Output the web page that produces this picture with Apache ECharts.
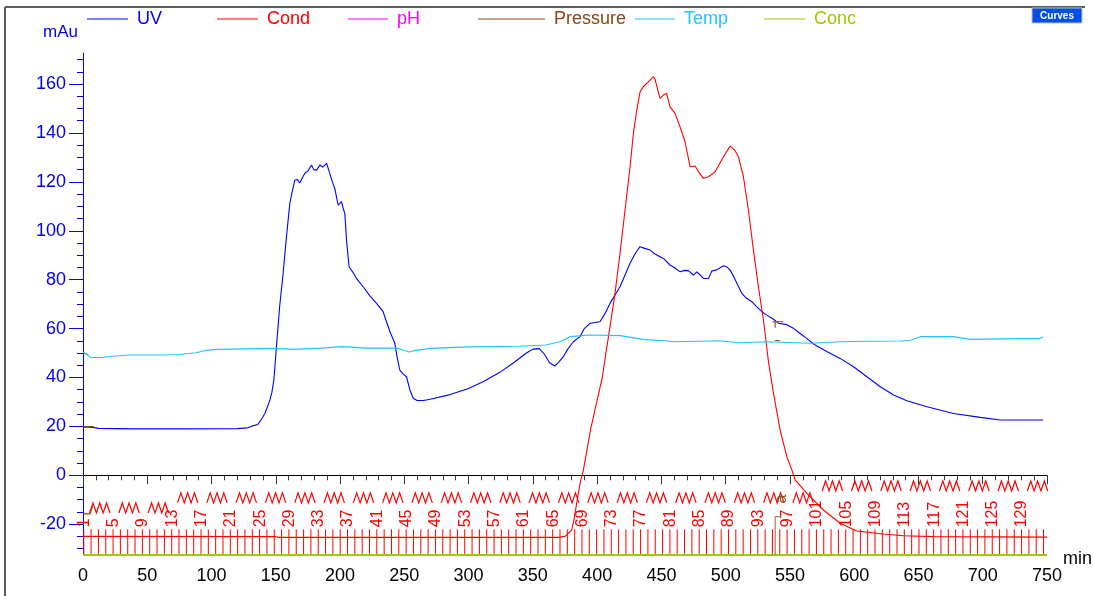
<!DOCTYPE html>
<html>
<head>
<meta charset="utf-8">
<style>html,body{margin:0;padding:0;background:#fff;}#c{width:1093px;height:596px;}</style>
<script src="https://cdn.jsdelivr.net/npm/echarts@6/dist/echarts.min.js"></script>
</head>
<body>
<div id="c"></div>
<script>
// ---------- data (time in min, value in mAu-scale units) ----------
const uv = [[0,19.8],[8,19.6],[12,19.2],[40,19.0],[80,19.0],[120,19.1],[128,19.4],[132,20.2],[136,20.8],[139,23],[141.5,25.3],[143.5,28],[145.4,30.8],[147,34],[148.5,39],[150.5,52.6],[153,69],[155.7,82.6],[158.3,97.6],[160.9,111.2],[163,116.6],[164.8,120.7],[166.5,121],[168.7,119.6],[170.5,121.5],[172.6,123.5],[175,124.5],[177.8,126.9],[179.5,125],[181.7,124.8],[184.3,126.9],[186.5,126],[189.5,127.6],[192,123.5],[194,120],[195.9,117.3],[197.5,113],[198.5,110.5],[200,111],[201.1,111.9],[202.5,109],[203.7,107.1],[205,96.2],[207,85.3],[210,83],[212.8,80.5],[215,79],[218,77.1],[223,73.5],[228.4,70.3],[233.5,66.9],[236,63],[238.8,58.7],[242.6,54],[244.5,48],[246.5,43],[249,41.5],[251.7,40.3],[254.3,34.9],[256.9,31.5],[260,30.6],[265,30.6],[270,31.1],[285,32.9],[300,35.5],[312,38.5],[324,42],[335,46],[345,50],[350,51.6],[355,51.8],[359,49.5],[363,46],[367,44.7],[370,46.2],[373.7,48.5],[377,51.5],[381.5,54.6],[386.7,56.7],[390,60],[394.5,62.1],[398,62.5],[402.2,62.8],[406,66],[410,70.3],[417.8,77.1],[425.6,86.7],[430,91],[433.4,93.5],[437,92.8],[441.2,92.1],[445,90.5],[448.9,89.4],[452,88.5],[456.7,86],[460,85],[464.5,83.2],[468,83.8],[471,83.7],[474.9,81.9],[477.5,83.2],[480,82],[482.7,80.5],[486.6,80.5],[489.2,83.5],[493,84],[498.3,85.7],[501,85.2],[503.5,83.9],[506,81.5],[508.7,78.5],[512.6,74.4],[516,72.5],[520.4,71],[524,69],[528.2,66.9],[532,65.5],[537.2,63.8],[541,62.2],[547.6,61.6],[553,60],[558,58],[563,56],[569,53.5],[579,50.5],[589,47.8],[599.5,44.4],[609.9,40.3],[620.3,36.2],[630.6,32.8],[641,30.5],[656.6,28],[677.3,25.3],[698.1,23.7],[713.7,22.6],[747,22.6]];

const cond = [[0,-25],[150,-25.1],[152,-25.4],[370,-25.4],[375,-25],[378,-23.5],[380.2,-22.4],[382,-18],[384.1,-11.4],[386.7,-3.3],[389.3,2.2],[392,10],[395,19],[398,26],[401,33],[404,40],[406,47.1],[410,60.8],[413.9,74.4],[417.8,90.8],[421.7,108.5],[425.6,126.2],[428.2,139.8],[430.8,149.3],[433.4,156.8],[436,159],[438.6,160.3],[441,161.5],[443.8,163],[445,162],[446.4,161.6],[448.9,154.1],[451.5,155.5],[454.1,156.2],[456.7,150.7],[460.6,148],[464.5,142.5],[468.4,136.4],[472.3,126.2],[476.2,126.5],[479,124],[482.7,121.4],[486.6,122.1],[491.8,124.1],[498.3,130.3],[503.5,134.6],[507,133],[509.9,130.3],[513.8,122.1],[517.7,108.5],[521.6,92.1],[525.5,77],[529.4,63.5],[533.3,46.5],[537.2,33.5],[542.4,18.5],[547.6,7.6],[551.5,2.2],[554,-1.9],[563.2,-7.4],[576.1,-14.2],[589,-19.6],[602,-22.8],[622.7,-24],[638.4,-24.7],[661.8,-25.1],[750,-25.3]];

const ph = [];

const pressure = [[0,-15.8],[5.5,-15.8],[7.5,-12.6],[7.5,'-'],[0,19.9],[8.5,19.9],[8.5,'-'],[0,50.2],[4,49.2],[4,'-'],[536.5,62.8],[545,62.8],[545,'-'],[538.5,62.8],[538.5,60.3],[538.5,'-'],[538.5,55.1],[542,55.1]];

const temp = [[0,50.3],[3,49.5],[6,48.2],[15,48.2],[20,48.6],[36,49.2],[62,49.2],[75,49.4],[88,50.1],[95,51],[104,51.5],[150,51.9],[163,51.5],[185,52],[202,52.6],[220,52],[244,52],[250,51],[254,50.4],[258,51],[270,51.9],[300,52.5],[340,52.8],[360,53.3],[371,54.6],[379,56.7],[394.5,57.4],[417.8,57.1],[436,55.6],[462,54.6],[495,55],[511,54.2],[532,54.6],[566,54],[589,54.6],[610,54.8],[636,54.9],[643.6,55.2],[651.4,56.7],[677,56.7],[690,55.6],[729,55.9],[744,55.9],[747,56.6]];

const conc = [[0,-32.6],[750,-32.6]];

// fraction start times (min); fraction number = index + 1
const fracTimes = [0.6,6.3,12.0,17.7,23.4,29.1,34.8,40.5,46.2,51.9,57.6,63.3,69.0,74.7,80.4,86.1,91.8,97.5,103.2,108.9,114.6,120.3,126.0,131.7,137.4,143.1,148.8,154.5,160.2,165.9,171.6,177.3,183.0,188.7,194.4,200.1,205.8,211.5,217.2,222.9,228.6,234.3,240.0,245.7,251.4,257.1,262.8,268.5,274.2,279.9,285.6,291.3,297.0,302.7,308.4,314.1,319.8,325.5,331.2,336.9,342.6,348.3,354.0,359.7,365.4,371.1,376.8,382.5,388.2,393.9,399.6,405.3,411.0,416.7,422.4,428.1,433.8,439.5,445.2,450.9,456.6,462.3,468.0,473.7,479.4,485.1,490.8,496.5,502.2,507.9,513.6,519.3,525.0,530.7,536.4,542.1,547.8,553.5,559.2,564.9,570.6,576.3,582.0,587.7,593.4,599.1,604.8,610.5,616.2,621.9,627.6,633.3,639.0,644.7,650.4,656.1,661.8,667.5,673.2,678.9,684.6,690.3,696.0,701.7,707.4,713.1,718.8,724.5,730.2,735.9,741.6,747.3];

const events = [[538.5,'a']];

const yMajorTicks = [-20,0,20,40,60,80,100,120,140,160];
const yMinorTicks = [-30,-25,-15,-10,-5,5,10,15,25,30,35,45,50,55,65,70,75,85,90,95,105,110,115,125,130,135,145,150,155,165,170];

const seriesNames = ['UV','Cond','pH','Pressure','Temp','Conc'];
const seriesColors = ['#0000ff','#ff0000','#ff00ff','#8b4513','#1ec4ff','#99cc00'];

// ---------- chart ----------
const Y_MIN = -32.6, Y_MAX = 172.7;
const FONT = "'Liberation Sans', Arial, sans-serif";
const FRAC_LINE_TOP = -22.1, FRAC_LABEL_BASE = -21.3;
const ZZ_LOW = -15.4, ZZ_MID = -11.3, ZZ_HIGH = -6.4;

const fracData = fracTimes.map((t, i) => [t, -30, i + 1]);

function renderFrac(params, api) {
  const t = api.value(0), k = api.value(2);
  const top = api.coord([t, FRAC_LINE_TOP]);
  const bot = api.coord([t, Y_MIN]);
  const ch = [{type:'line', shape:{x1:top[0], y1:top[1], x2:bot[0], y2:bot[1]}, style:{stroke:'#ff0000', lineWidth:1}}];
  if ((k - 1) % 4 === 0) {
    const a = api.coord([t, FRAC_LABEL_BASE]);
    ch.push({type:'text', x:a[0] + 0.5, y:a[1], rotation:Math.PI/2,
      style:{text:String(k), fill:'#ff0000', fontSize:16, fontFamily:FONT, align:'left', verticalAlign:'middle'}});
    const lvl = k < 13 ? ZZ_LOW : (k < 101 ? ZZ_MID : ZZ_HIGH);
    const z0 = api.coord([t + 4.5, lvl]);
    const pts = [];
    for (let i = 0; i < 7; i++) pts.push([z0[0] + i * 3.4, z0[1] - (i % 2 ? 10 : 0)]);
    if (z0[0] + 19 < params.coordSys.x + params.coordSys.width + 1)
      ch.push({type:'polyline', shape:{points:pts}, style:{stroke:'#ff0000', lineWidth:1.2, fill:null}});
  }
  return {type:'group', children:ch};
}

function renderEvent(params, api) {
  const t = api.value(0);
  const top = api.coord([t, -16.9]);
  const bot = api.coord([t, Y_MIN]);
  const lab = api.coord([t, -11.5]);
  return {type:'group', children:[
    {type:'line', shape:{x1:top[0], y1:top[1], x2:bot[0], y2:bot[1]}, style:{stroke:'#a0785a', lineWidth:1.2}},
    {type:'line', shape:{x1:top[0], y1:top[1], x2:top[0] + 6, y2:top[1]}, style:{stroke:'#a0785a', lineWidth:1.2}},
    {type:'text', x:lab[0] + 6.5, y:lab[1], rotation:Math.PI/2,
      style:{text:events[params.dataIndex][1], fill:'#8b5a2b', fontSize:16, fontFamily:FONT, align:'left', verticalAlign:'middle'}}
  ]};
}

const legendLeft = [87, 217, 348, 478, 635, 764];
const legendLineLen = [41, 41, 40, 67, 40, 41];
const legends = seriesNames.map((n, i) => ({
  data:[n], left:legendLeft[i], top:10, padding:0, orient:'horizontal',
  icon:'rect', itemWidth:legendLineLen[i], itemHeight:1,
  textStyle:{color:seriesColors[i], fontSize:18, fontFamily:FONT, padding:[0,0,0,4]}
}));

const lineSeries = [uv, cond, ph, pressure, temp, conc].map((d, i) => ({
  name:seriesNames[i], type:'line', data:d, showSymbol:false, symbol:'none',
  connectNulls:false, color:seriesColors[i],
  lineStyle:{color:seriesColors[i], width: i === 5 ? 2 : 1.1},
  clip: i === 5 ? false : true, z: i === 5 ? 4 : 3, silent:true
}));

const chart = echarts.init(document.getElementById('c'), null, {renderer:'canvas'});
chart.setOption({
  animation:false,
  backgroundColor:'#ffffff',
  textStyle:{fontFamily:FONT},
  grid:{left:83, right:46, top:53, bottom:41, containLabel:false, outerBoundsMode:'none'},
  legend:legends,
  xAxis:{
    type:'value', min:0, max:750, interval:50,
    axisLine:{show:true, lineStyle:{color:'#000', width:1}},
    axisTick:{show:true, length:9, lineStyle:{color:'#333'}},
    minorTick:{show:true, splitNumber:5, length:5, lineStyle:{color:'#333'}},
    axisLabel:{color:'#000', fontSize:18, fontFamily:FONT, margin:12},
    splitLine:{show:false}, minorSplitLine:{show:false}
  },
  yAxis:[{
    type:'value', min:Y_MIN, max:Y_MAX, position:'left',
    axisLine:{show:true, lineStyle:{color:'#0000ff', width:1}},
    axisTick:{show:true, length:14, customValues:yMajorTicks, lineStyle:{color:'#0000ff'}},
    axisLabel:{show:true, customValues:yMajorTicks, color:'#0000ee', fontSize:18, fontFamily:FONT, margin:17},
    splitLine:{show:false}
  },{
    type:'value', min:Y_MIN, max:Y_MAX, position:'left', offset:0,
    axisLine:{show:false},
    axisTick:{show:true, length:6, customValues:yMinorTicks, lineStyle:{color:'#0000ff'}},
    axisLabel:{show:false, customValues:yMinorTicks},
    splitLine:{show:false}
  }],
  series: lineSeries.concat([
    {name:'Frac', type:'custom', data:fracData, renderItem:renderFrac, encode:{x:0, y:1}, silent:true, z:2},
    {name:'Events', type:'custom', data:events.map(e => [e[0], -30]), renderItem:renderEvent, encode:{x:0, y:1}, silent:true, z:5}
  ]),
  graphic:[
    {type:'line', shape:{x1:5, y1:7, x2:1085, y2:7}, style:{stroke:'#5a5a5a', lineWidth:2}, silent:true},
    {type:'line', shape:{x1:5, y1:7, x2:5, y2:596}, style:{stroke:'#5a5a5a', lineWidth:2}, silent:true},
    {type:'text', x:43, y:32, style:{text:'mAu', fill:'#0000ee', fontSize:17, fontFamily:FONT, verticalAlign:'middle'}, silent:true},
    {type:'text', x:1063, y:559, style:{text:'min', fill:'#000', fontSize:18, fontFamily:FONT, verticalAlign:'middle'}, silent:true},
    {type:'rect', shape:{x:1032, y:8, width:50, height:15}, style:{fill:'#0050e6', stroke:'#c0c0c0', lineWidth:1}, silent:true},
    {type:'text', x:1057, y:16, style:{text:'Curves', fill:'#fff', fontSize:10, fontWeight:'bold', fontFamily:FONT, align:'center', verticalAlign:'middle'}, silent:true}
  ]
});
</script>
</body>
</html>
